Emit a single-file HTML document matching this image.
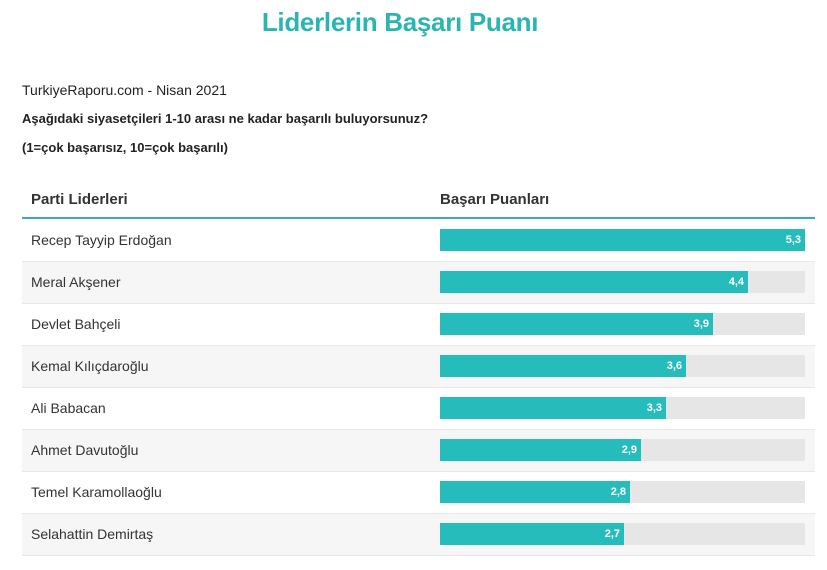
<!DOCTYPE html>
<html><head><meta charset="utf-8"><style>
body{margin:0;width:827px;height:570px;background:#fff;font-family:"Liberation Sans",sans-serif;position:relative;overflow:hidden}
.a{position:absolute;white-space:nowrap}
.t{left:0;width:800px;text-align:center;top:7px;font-size:26px;font-weight:bold;color:#2bb5b0;letter-spacing:-0.3px}
.row{position:absolute;left:22px;width:793px;height:41px;border-bottom:1px solid #e8e8e8}
.row.g{background:#f6f6f6}
.row .n{position:absolute;left:9px;top:12px;font-size:14px;color:#333}
.track{position:absolute;left:418px;top:9px;width:365px;height:22px;background:#e6e6e6}
.bar{position:absolute;left:0;top:0;height:22px;background:#26bcbc}
.bar span{position:absolute;right:4px;top:5px;font-size:11px;font-weight:bold;color:#fff}
</style></head><body>
<div class="a t">Liderlerin Başarı Puanı</div>
<div class="a" style="left:22px;top:82px;font-size:14px;color:#222">TurkiyeRaporu.com - Nisan 2021</div>
<div class="a" style="left:22px;top:111px;font-size:13px;font-weight:bold;color:#222">Aşağıdaki siyasetçileri 1-10 arası ne kadar başarılı buluyorsunuz?</div>
<div class="a" style="left:22px;top:140px;font-size:13px;font-weight:bold;color:#222">(1=çok başarısız, 10=çok başarılı)</div>
<div class="a" style="left:31px;top:191px;font-size:15px;font-weight:bold;color:#333">Parti Liderleri</div>
<div class="a" style="left:440px;top:191px;font-size:15px;font-weight:bold;color:#333">Başarı Puanları</div>
<div class="a" style="left:22px;top:217px;width:793px;height:2px;background:#3aaeae"></div>

<div class="row" style="top:220px"><div class="n">Recep Tayyip Erdoğan</div><div class="track"><div class="bar" style="width:365px"><span>5,3</span></div></div></div>
<div class="row g" style="top:262px"><div class="n">Meral Akşener</div><div class="track"><div class="bar" style="width:308px"><span>4,4</span></div></div></div>
<div class="row" style="top:304px"><div class="n">Devlet Bahçeli</div><div class="track"><div class="bar" style="width:273px"><span>3,9</span></div></div></div>
<div class="row g" style="top:346px"><div class="n">Kemal Kılıçdaroğlu</div><div class="track"><div class="bar" style="width:246px"><span>3,6</span></div></div></div>
<div class="row" style="top:388px"><div class="n">Ali Babacan</div><div class="track"><div class="bar" style="width:226px"><span>3,3</span></div></div></div>
<div class="row g" style="top:430px"><div class="n">Ahmet Davutoğlu</div><div class="track"><div class="bar" style="width:201px"><span>2,9</span></div></div></div>
<div class="row" style="top:472px"><div class="n">Temel Karamollaoğlu</div><div class="track"><div class="bar" style="width:190px"><span>2,8</span></div></div></div>
<div class="row g" style="top:514px"><div class="n">Selahattin Demirtaş</div><div class="track"><div class="bar" style="width:184px"><span>2,7</span></div></div></div>
</body></html>
